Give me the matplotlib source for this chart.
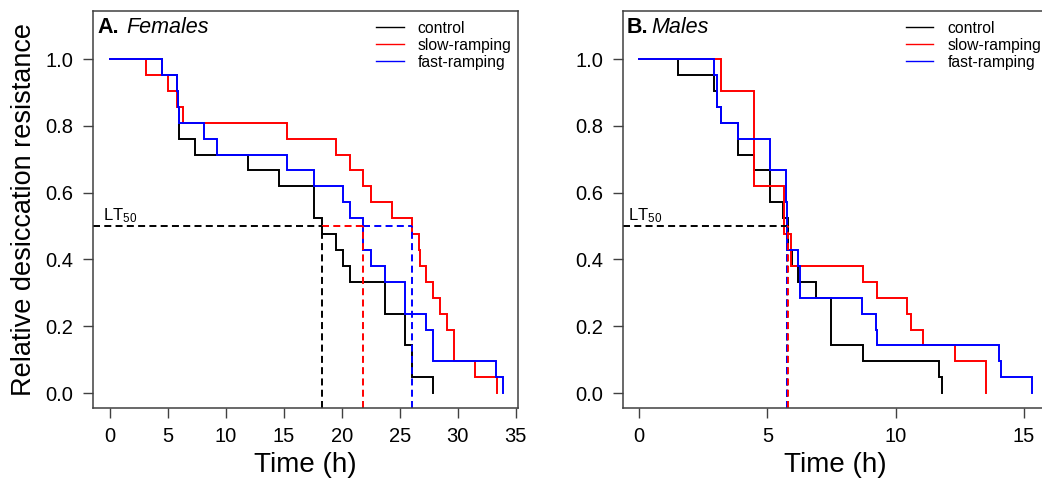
import matplotlib
matplotlib.use("Agg")
import matplotlib.pyplot as plt

plt.rcParams['font.family'] = ['Liberation Sans', 'DejaVu Sans']
plt.rcParams['mathtext.fontset'] = 'custom'
plt.rcParams['mathtext.rm'] = 'Liberation Sans'
plt.rcParams['mathtext.it'] = 'Liberation Sans:italic'
plt.rcParams['mathtext.bf'] = 'Liberation Sans:bold'

# ---------------- Data: Females (panel A) ----------------
fem_ctrl_t = [0, 4.48, 5.80, 5.85, 5.95, 7.35, 11.92, 14.62, 17.64, 18.27, 19.48, 20.09, 20.69, 23.73, 25.46, 26.09, 27.90]
fem_ctrl_s = [1.0, 0.952, 0.905, 0.857, 0.762, 0.714, 0.667, 0.619, 0.524, 0.476, 0.429, 0.381, 0.333, 0.238, 0.143, 0.048, 0.0]

fem_slow_t = [0, 3.13, 5.05, 5.80, 6.30, 15.26, 19.48, 20.69, 21.87, 22.50, 24.31, 26.09, 26.69, 26.75, 27.27, 27.90, 28.47, 29.10, 29.68, 31.49, 33.36]
fem_slow_s = [1.0, 0.952, 0.905, 0.857, 0.810, 0.762, 0.714, 0.667, 0.619, 0.571, 0.524, 0.476, 0.429, 0.381, 0.333, 0.286, 0.238, 0.190, 0.095, 0.048, 0.0]

fem_fast_t = [0, 4.48, 5.80, 5.85, 5.95, 8.10, 9.28, 15.26, 17.64, 20.09, 20.69, 21.87, 22.50, 23.73, 25.46, 27.27, 27.90, 33.30, 33.88]
fem_fast_s = [1.0, 0.952, 0.905, 0.857, 0.810, 0.762, 0.714, 0.667, 0.619, 0.571, 0.524, 0.429, 0.381, 0.333, 0.238, 0.190, 0.095, 0.048, 0.0]

fem_lt50 = [18.27, 21.87, 26.10]   # control, slow, fast (dashed drop lines)

# ---------------- Data: Males (panel B) ----------------
mal_ctrl_t = [0, 1.51, 2.93, 3.03, 3.18, 3.87, 4.49, 5.10, 5.60, 5.79, 5.95, 6.18, 6.88, 7.48, 8.71, 11.70, 11.82]
mal_ctrl_s = [1.0, 0.952, 0.905, 0.857, 0.810, 0.714, 0.667, 0.571, 0.524, 0.429, 0.381, 0.333, 0.286, 0.143, 0.095, 0.048, 0.0]

mal_slow_t = [0, 3.18, 4.49, 5.66, 5.91, 8.71, 9.29, 10.45, 10.60, 11.07, 12.29, 13.52]
mal_slow_s = [1.0, 0.905, 0.619, 0.476, 0.381, 0.333, 0.286, 0.238, 0.190, 0.143, 0.095, 0.0]

mal_fast_t = [0, 2.93, 3.03, 3.18, 3.87, 5.10, 5.71, 5.78, 6.21, 6.27, 8.68, 9.23, 9.29, 14.04, 14.10, 15.32]
mal_fast_s = [1.0, 0.952, 0.857, 0.810, 0.762, 0.667, 0.571, 0.429, 0.381, 0.286, 0.238, 0.190, 0.143, 0.095, 0.048, 0.0]

mal_lt50 = [5.78, 5.82, 5.78]   # control, slow, fast

series_labels = ['control', 'slow-ramping', 'fast-ramping']
series_colors = ['#000000', '#ff0000', '#0000ff']
yticks = [0.0, 0.2, 0.4, 0.6, 0.8, 1.0]
ytick_labels = ['0.0', '0.2', '0.4', '0.6', '0.8', '1.0']
fem_xticks = [0, 5, 10, 15, 20, 25, 30, 35]
mal_xticks = [0, 5, 10, 15]

W, H = 1042, 488
fig = plt.figure(figsize=(W / 100, H / 100), dpi=100)

ax_w = 425 / W
ax_b = (H - 407.7) / H
ax_h = 396.7 / H
axA = fig.add_axes([93 / W, ax_b, ax_w, ax_h])
axB = fig.add_axes([622.7 / W, ax_b, ax_w, ax_h])

spine_col = '#404040'
dash = (0, (3.6, 2.2))


def panel(ax, curves, lt50, xlim, xticks, letter, sex, title_x1, title_x2, lt_x):
    for (t, s), c, lab in zip(curves, series_colors, series_labels):
        ax.step(t, s, where='post', color=c, lw=1.4, label=lab, solid_joinstyle='miter')
    ylo = -0.044
    # horizontal LT50 segments
    order = sorted(range(3), key=lambda i: lt50[i])
    start = xlim[0]
    for i in order:
        if lt50[i] > start:
            ax.plot([start, lt50[i]], [0.5, 0.5], color=series_colors[i], lw=1.4, ls=dash)
            start = lt50[i]
    for i in [0, 2, 1]:
        ax.plot([lt50[i], lt50[i]], [ylo, 0.5], color=series_colors[i], lw=1.4, ls=dash)
    ax.set_xlim(*xlim)
    ax.set_ylim(ylo, 1.144)
    ax.set_xticks(xticks)
    ax.set_xticklabels([str(v) for v in xticks])
    ax.set_yticks(yticks)
    ax.set_yticklabels(ytick_labels)
    ax.tick_params(axis='both', direction='out', length=7, width=1, colors=spine_col,
                   labelcolor='black', labelsize=14.5, pad=7)
    for sp in ax.spines.values():
        sp.set_color(spine_col)
        sp.set_linewidth(1.1)
    ax.set_xlabel('Time (h)', fontsize=20, labelpad=4)
    ax.text(title_x1, 0.9445, letter, transform=ax.transAxes,
            fontsize=15.5, fontweight='bold', va='baseline', ha='left')
    ax.text(title_x2, 0.9445, sex, transform=ax.transAxes,
            fontsize=15.5, fontstyle='italic', va='baseline', ha='left')
    ax.text(lt_x, 0.517, 'LT$_{\\mathrm{50}}$', fontsize=12, va='baseline', ha='left')
    leg = ax.legend(loc='upper left', bbox_to_anchor=(0.666, 0.975), frameon=False,
                    fontsize=11.3, handlelength=1.75, handletextpad=0.9,
                    labelspacing=0.12, borderpad=0, borderaxespad=0)
    for h in leg.get_lines():
        h.set_linewidth(1.0)


panel(axA, [(fem_ctrl_t, fem_ctrl_s), (fem_slow_t, fem_slow_s), (fem_fast_t, fem_fast_s)],
      fem_lt50, (-1.44, 35.2), fem_xticks, 'A.', 'Females', 0.011, 0.078, -0.58)
panel(axB, [(mal_ctrl_t, mal_ctrl_s), (mal_slow_t, mal_slow_s), (mal_fast_t, mal_fast_s)],
      mal_lt50, (-0.635, 15.92), mal_xticks, 'B.', 'Males', 0.0087, 0.0684, -0.42)

axA.set_ylabel('Relative desiccation resistance', fontsize=19.5, labelpad=6)

fig.savefig('out.png', dpi=100)
